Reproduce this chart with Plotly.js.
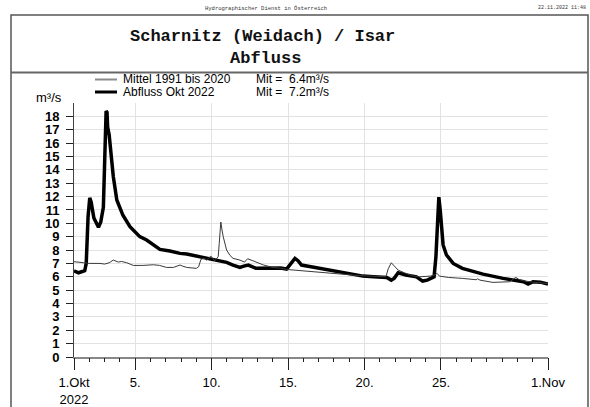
<!DOCTYPE html>
<html>
<head>
<meta charset="utf-8">
<script src="https://cdn.plot.ly/plotly-3.0.1.min.js"></script>
<style>html,body{margin:0;padding:0;background:#fff;}#chart{width:590px;height:407px;}</style>
</head>
<body>
<div id="chart"></div>
<script>
// ---- data (days since 1 Oct 2022 00:00, discharge m³/s) ----
const abflussDays = [0,0.3,0.7,0.8,0.92,1.03,1.12,1.3,1.6,1.75,1.92,2.0,2.1,2.16,2.2,2.3,2.45,2.57,2.8,3.2,3.66,4.3,4.75,5.2,5.62,6.27,6.93,7.37,8.24,9.1,9.98,10.4,10.85,11.1,11.4,11.9,12.5,13.0,13.5,13.9,14.2,14.45,14.65,14.88,15.5,16.73,17.8,18.9,19.6,20.2,20.45,20.75,20.95,21.2,21.7,22.4,22.8,23.1,23.4,23.55,23.67,23.8,23.86,23.95,24.05,24.14,24.36,24.8,25.4,26.1,26.75,28.06,29.0,29.4,29.7,30.02,30.5,30.9,31.0];
const abflussVals = [6.45,6.3,6.45,7.0,10.5,11.9,11.6,10.4,9.7,10.1,11.2,14.0,18.4,18.3,17.2,16.6,15.0,13.5,11.75,10.6,9.75,9.0,8.75,8.35,8.05,7.93,7.75,7.7,7.5,7.3,7.08,6.88,6.7,6.8,6.88,6.63,6.65,6.68,6.65,6.58,7.0,7.38,7.2,6.88,6.75,6.5,6.25,6.05,6.0,6.0,5.95,5.75,5.9,6.3,6.13,6.0,5.68,5.75,5.88,6.0,7.5,11.0,11.96,11.0,9.5,8.38,7.63,7.0,6.63,6.4,6.2,5.88,5.7,5.63,5.45,5.63,5.6,5.5,5.45];
const mittelDays = [0,0.5,1.0,1.7,2.0,2.3,2.57,2.9,3.1,3.45,3.88,4.5,5.2,5.6,6.05,6.5,6.7,6.93,7.1,7.37,8.0,8.15,8.3,8.5,8.67,8.95,9.2,9.43,9.5,9.6,9.68,9.76,9.98,10.2,10.4,10.85,11.15,11.35,11.7,12.0,12.4,13.0,13.5,13.9,14.8,15.6,16.5,17.5,18.5,19.5,20.4,20.55,20.75,20.95,21.2,21.6,22.2,22.6,23.05,23.3,23.6,23.75,23.9,24.5,25.4,26.3,26.4,26.55,27.4,28.5,28.75,28.9,29.1,29.4,30.0,30.5,31.0];
const mittelVals = [7.13,7.05,7.0,7.0,6.95,7.05,7.25,7.1,7.15,7.05,6.85,6.85,6.9,6.85,6.7,6.7,6.78,6.88,6.8,6.7,6.63,6.75,7.3,7.4,7.25,7.55,7.2,7.5,8.5,10.1,9.5,9.0,8.0,7.6,7.38,7.25,7.1,7.35,7.2,7.05,6.88,6.7,6.65,6.55,6.45,6.38,6.3,6.2,6.1,6.05,6.0,6.6,7.05,6.8,6.5,6.3,6.05,6.0,6.0,6.05,6.15,6.25,6.05,5.95,5.88,5.78,5.85,5.75,5.58,5.63,5.85,5.95,5.8,5.7,5.6,5.55,5.5];
const tickDates = ['2022-10-01','2022-10-05','2022-10-10','2022-10-15','2022-10-20','2022-10-25','2022-11-01'];
const tickLabels = ['1.Okt<br>2022','5.','10.','15.','20.','25.','1.Nov'];
const yTicks = [0,1,2,3,4,5,6,7,8,9,10,11,12,13,14,15,16,17,18];
const seriesNames = ['Mittel 1991 bis 2020','Abfluss Okt 2022'];
const seriesMeans = ['Mit =  6.4m³/s','Mit =  7.2m³/s'];

function dayToDate(d){
  const ms = Date.UTC(2022,9,1) + d*86400000;
  return new Date(ms).toISOString().slice(0,19).replace('T',' ');
}

// plot area in pixels
const L=74, R=42, T=103, B=50, W=590, H=407;
const pw=W-L-R, ph=H-T-B;
const px=x=>(x-L)/pw;
const py=y=>(H-B-y)/ph;

const traces = [
  {x: abflussDays.map(dayToDate), y: abflussVals, type:'scatter', mode:'lines', name: seriesNames[1],
   showlegend:false, line:{color:'#000', width:3.5}},
  {x: mittelDays.map(dayToDate), y: mittelVals, type:'scatter', mode:'lines', name: seriesNames[0],
   xaxis:'x2', showlegend:false, line:{color:'#3a3a3a', width:1}}
];

const sans = 'Liberation Sans, Arial, sans-serif';
const mono = 'Liberation Mono, Courier New, monospace';
const xRange = ['2022-10-01','2022-11-01'];

const layout = {
  width: W, height: H,
  margin:{l:L, r:R, t:T, b:B, pad:0},
  xaxis:{
    type:'date', range:xRange,
    tickmode:'array', tickvals:tickDates, ticktext:tickLabels,
    ticks:'outside', ticklen:11, tickcolor:'#222', tickwidth:1,
    showline:true, linecolor:'#888', linewidth:2,
    showgrid:true, gridcolor:'#e2e2e2', gridwidth:1,
    zeroline:false,
    tickfont:{family:sans, size:13, color:'#000'},
    ticklabelstandoff:1
  },
  xaxis2:{
    type:'date', range:xRange, overlaying:'x', side:'bottom', anchor:'y',
    tickmode:'linear', tick0:'2022-10-01', dtick:86400000,
    ticks:'outside', ticklen:4, tickcolor:'#222', tickwidth:1,
    showticklabels:false, showgrid:false, showline:false, zeroline:false
  },
  yaxis:{
    range:[0,19], tickmode:'array', tickvals:yTicks,
    ticks:'outside', ticklen:7, tickcolor:'#222', tickwidth:1,
    showline:true, linecolor:'#444', linewidth:1,
    showgrid:true, gridcolor:'#e2e2e2', gridwidth:1,
    zeroline:false,
    tickfont:{family:sans, size:13, color:'#000', weight:'bold'},
    ticklabelstandoff:4
  },
  shapes:[
    {type:'rect', xref:'paper', yref:'paper', x0:px(11), x1:px(588), y0:py(15), y1:py(430),
     line:{color:'#555', width:1.5}, fillcolor:'rgba(0,0,0,0)'},
    {type:'line', xref:'paper', yref:'paper', x0:px(11), x1:px(588), y0:py(72.5), y1:py(72.5),
     line:{color:'#666', width:2}},
    {type:'line', xref:'paper', yref:'paper', x0:px(95), x1:px(117), y0:py(79.5), y1:py(79.5),
     line:{color:'#8a8a8a', width:2}},
    {type:'line', xref:'paper', yref:'paper', x0:px(95), x1:px(117), y0:py(92), y1:py(92),
     line:{color:'#000', width:3}}
  ],
  annotations:[
    {xref:'paper', yref:'paper', x:px(266), y:py(8), text:'Hydrographischer Dienst in Österreich', showarrow:false,
     xanchor:'center', yanchor:'middle', font:{family:mono, size:5.5, color:'#333'}},
    {xref:'paper', yref:'paper', x:px(588), y:py(8), text:'22.11.2022 11:48', showarrow:false,
     xanchor:'right', yanchor:'middle', font:{family:mono, size:5, color:'#333'}},
    {xref:'paper', yref:'paper', x:px(262), y:py(36.5), text:'<b>Scharnitz (Weidach) / Isar</b>', showarrow:false,
     xanchor:'center', yanchor:'middle', font:{family:mono, size:17, color:'#111'}},
    {xref:'paper', yref:'paper', x:px(265), y:py(58), text:'<b>Abfluss</b>', showarrow:false,
     xanchor:'center', yanchor:'middle', font:{family:mono, size:17, color:'#111'}},
    {xref:'paper', yref:'paper', x:px(121), y:py(79.5), text:seriesNames[0], showarrow:false,
     xanchor:'left', yanchor:'middle', font:{family:sans, size:12, color:'#000'}},
    {xref:'paper', yref:'paper', x:px(121), y:py(92), text:seriesNames[1], showarrow:false,
     xanchor:'left', yanchor:'middle', font:{family:sans, size:12, color:'#000'}},
    {xref:'paper', yref:'paper', x:px(254), y:py(79.5), text:seriesMeans[0], showarrow:false,
     xanchor:'left', yanchor:'middle', font:{family:sans, size:12, color:'#000'}},
    {xref:'paper', yref:'paper', x:px(254), y:py(92), text:seriesMeans[1], showarrow:false,
     xanchor:'left', yanchor:'middle', font:{family:sans, size:12, color:'#000'}},
    {xref:'paper', yref:'paper', x:px(49), y:py(97), text:'m³/s', showarrow:false,
     xanchor:'center', yanchor:'middle', font:{family:sans, size:13, color:'#000'}}
  ]
};

Plotly.newPlot('chart', traces, layout, {staticPlot:true});
</script>
</body>
</html>
